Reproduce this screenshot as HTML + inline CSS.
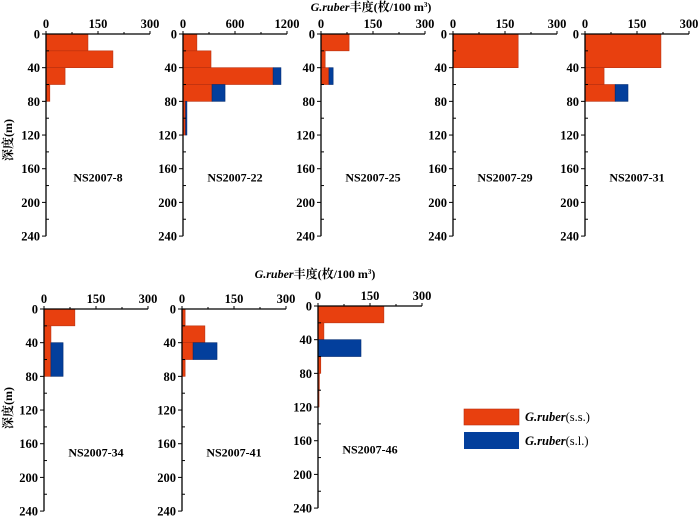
<!DOCTYPE html>
<html><head><meta charset="utf-8"><style>
body{margin:0;background:#fff;width:700px;height:522px;overflow:hidden}
svg{display:block;font-family:"Liberation Serif","Noto Serif CJK SC",serif}
</style></head><body>
<svg id="c" width="700" height="522" viewBox="0 0 700 522"></svg>
<script>
const stations=["NS2007-8","NS2007-22","NS2007-25","NS2007-29","NS2007-31","NS2007-34","NS2007-41","NS2007-46"];
const xMaxes=[300,1200,300,300,300,300,300,300];
const xTickLabels=[["0","150","300"],["0","600","1200"],["0","150","300"],["0","150","300"],["0","150","300"],["0","150","300"],["0","150","300"],["0","150","300"]];
const depthBins=[0,20,40,60,80,100];
const ssValues=[
 [121,193,55,11,0,0],
 [160,323,1040,335,30,30],
 [81,12,23,0,0,0],
 [188,188,0,0,0,0],
 [219,219,55,87,0,0],
 [89,20,20,20,0,0],
 [9,66,32,9,0,0],
 [190,17,0,8,4,3]];
const slValues=[
 [0,0,0,0,0,0],
 [0,0,90,150,15,15],
 [0,0,12,0,0,0],
 [0,0,0,0,0,0],
 [0,0,0,37,0,0],
 [0,0,35,35,0,0],
 [0,0,69,0,0,0],
 [0,0,124,0,0,0]];
const yTicks=[0,40,80,120,160,200,240];
const layout=[[46,34],[183,34],[321,34],[453,34],[585,34],[44,309],[182,309],[318,306]];
const W=104,DS=0.842;
const NS="http://www.w3.org/2000/svg";
const svg=document.getElementById('c');
function mk(tag,attrs,parent){const e=document.createElementNS(NS,tag);for(const k in attrs)e.setAttribute(k,attrs[k]);(parent||svg).appendChild(e);return e;}
function txt(s,attrs,parent){const e=mk('text',attrs,parent);e.textContent=s;return e;}
stations.forEach((st,p)=>{
 const [x0,y0]=layout[p];
 const g=mk('g',{});
 
 
 const xs=v=>x0+v/xMaxes[p]*W, ys=d=>y0+d*DS;
 // bars (merge consecutive identical bins)
 function drawSeries(getStart,getVal,fill,stroke,name){
  let i=0;
  while(i<depthBins.length){
   const s=getStart(i),v=getVal(i);
   if(v<=0){i++;continue;}
   let j=i;
   while(j+1<depthBins.length&&getStart(j+1)===s&&getVal(j+1)===v)j++;
   const d0=depthBins[i],d1=depthBins[j]+20;
   const r=mk('rect',{x:xs(s),y:ys(d0),width:xs(s+v)-xs(s),height:ys(d1)-ys(d0),fill:fill,stroke:stroke,'stroke-width':0.6},g);
   
   
   i=j+1;
  }
 }
 drawSeries(i=>0,i=>ssValues[p][i],'#e8400f','#b83010','bar-ss');
 drawSeries(i=>ssValues[p][i],i=>slValues[p][i],'#033f9c','#022a70','bar-sl');
 // axes
 mk('line',{x1:x0,y1:y0,x2:x0+W,y2:y0,stroke:'#000','stroke-width':1.3},g);
 mk('line',{x1:x0,y1:y0,x2:x0,y2:ys(240),stroke:'#000','stroke-width':1.3},g);
 for(let k=0;k<=4;k++){const x=x0+k*W/4;mk('line',{x1:x,y1:y0,x2:x,y2:y0-(k%2?2:3),stroke:'#000'},g);}
 xTickLabels[p].forEach((l,k)=>txt(l,{x:x0+k*W/2,y:y0-6,'text-anchor':'middle','font-size':12.5,'font-weight':'bold'},g));
 for(let d=0;d<=240;d+=20){const y=ys(d);mk('line',{x1:x0-(d%40?0:4),y1:y,x2:x0+(d%40?3:0),y2:y,stroke:'#000'},g);}
 yTicks.forEach(d=>txt(String(d),{x:x0-6,y:ys(d)+4.5,'text-anchor':'end','font-size':12.5,'font-weight':'bold'},g));
 const lbl=txt(st,{x:x0+W/2,y:ys(175),'text-anchor':'middle','font-size':12,'font-weight':'bold'},g);
 
});
function title(x,y){const t=txt('',{x:x,y:y,'text-anchor':'middle','font-size':12,'font-weight':'bold'});
 
 t.innerHTML='<tspan font-style="italic">G.ruber</tspan>丰度(枚/100 m<tspan font-size="7" dy="-4">3</tspan><tspan dy="4">)</tspan>';}
title(371,11);title(315,278);
function ytitle(y){const t=txt('深度(m)',{x:0,y:0,transform:`translate(12,${y}) rotate(-90)`,'text-anchor':'middle','font-size':12,'font-weight':'bold'});
 }
ytitle(140);ytitle(408);
const lg=mk('g',{});
mk('rect',{x:464,y:409,width:55,height:16,fill:'#e8400f',stroke:'#b83010','stroke-width':0.6},lg);
mk('rect',{x:464,y:432,width:55,height:17,fill:'#033f9c'},lg);
[['s.s.',421],['s.l.',445]].forEach(([s,y])=>{const t=txt('',{x:525,y:y,'font-size':12.5},lg);
 t.innerHTML='<tspan font-style="italic" font-weight="bold">G.ruber</tspan>('+s+')';});
</script>
</body></html>
